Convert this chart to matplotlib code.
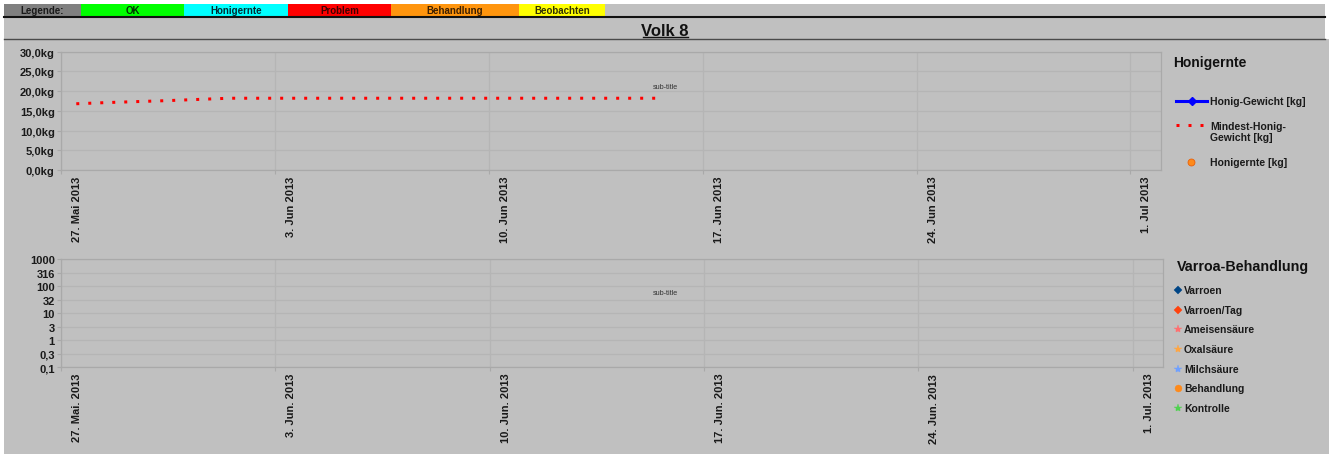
import matplotlib
matplotlib.use("Agg")
import matplotlib.pyplot as plt
import matplotlib.dates as mdates
import matplotlib.transforms as mtransforms
from matplotlib.lines import Line2D
from matplotlib.patches import Rectangle
import numpy as np
import pandas as pd

plt.rcParams['font.family'] = ['Liberation Sans', 'DejaVu Sans']

# ---------------- data ----------------
legend_bar_labels = ["Legende:", "OK", "Honigernte", "Problem", "Behandlung", "Beobachten"]
legend_bar_colors = ["#808080", "#00ff00", "#00ffff", "#ff0000", "#ff950e", "#ffff00"]
legend_bar_text_colors = ["#1a1a1a", "#003300", "#002b33", "#400000", "#3d1f00", "#333300"]

min_honey_dates = ["2013-05-27 12:00", "2013-05-28 12:00", "2013-05-29 12:00", "2013-05-30 12:00",
                   "2013-05-31 12:00", "2013-06-01 12:00", "2013-06-02 12:00", "2013-06-03 12:00",
                   "2013-06-04 12:00", "2013-06-05 12:00", "2013-06-06 12:00", "2013-06-07 12:00",
                   "2013-06-08 12:00", "2013-06-09 12:00", "2013-06-10 12:00", "2013-06-11 12:00",
                   "2013-06-12 12:00", "2013-06-13 12:00", "2013-06-14 12:00", "2013-06-15 12:00"]
min_honey_kg = [16.8, 17.1, 17.35, 17.6, 17.9, 18.2, 18.2, 18.2, 18.2, 18.2,
                18.2, 18.2, 18.2, 18.2, 18.2, 18.2, 18.2, 18.2, 18.2, 18.2]

week_ticks = ["2013-05-27", "2013-06-03", "2013-06-10", "2013-06-17", "2013-06-24", "2013-07-01"]
top_xlabels = ["27. Mai 2013", "3. Jun 2013", "10. Jun 2013", "17. Jun 2013", "24. Jun 2013", "1. Jul 2013"]
bottom_xlabels = ["27. Mai. 2013", "3. Jun. 2013", "10. Jun. 2013", "17. Jun. 2013", "24. Jun. 2013", "1. Jul. 2013"]
x_range = ["2013-05-27", "2013-07-02"]

top_yticks = [0, 5, 10, 15, 20, 25, 30]
top_ylabels = ["0,0kg", "5,0kg", "10,0kg", "15,0kg", "20,0kg", "25,0kg", "30,0kg"]

log_yticks = [0.1, 0.316, 1, 3.16, 10, 31.6, 100, 316, 1000]
log_ylabels = ["0,1", "0,3", "1", "3", "10", "32", "100", "316", "1000"]

honey_legend = ["Honig-Gewicht [kg]", "Mindest-Honig-\nGewicht [kg]", "Honigernte [kg]"]
varroa_legend = ["Varroen", "Varroen/Tag", "Ameisensäure", "Oxalsäure", "Milchsäure", "Behandlung", "Kontrolle"]
varroa_markers = ["D", "D", "*", "*", "*", "o", "*"]
varroa_colors = ["#004586", "#ff420e", "#ff6f6f", "#ffa542", "#6fa0ff", "#ff8a1a", "#4fd24f"]

# ---------------- figure ----------------
W, H = 1329, 456
fig = plt.figure(figsize=(W / 100, H / 100), dpi=100)
fig.patch.set_facecolor("white")
BG = "#c0c0c0"


def fx(px):
    return px / W


def fy(py):
    return 1 - py / H


def rect(x0, y0, x1, y1, color, z=0):
    fig.add_artist(Rectangle((fx(x0), fy(y1)), fx(x1) - fx(x0), fy(y0) - fy(y1),
                             transform=fig.transFigure, facecolor=color, edgecolor="none", zorder=z))


def hline(x0, x1, y, color, lw):
    fig.add_artist(Line2D([fx(x0), fx(x1)], [fy(y), fy(y)], transform=fig.transFigure,
                          color=color, lw=lw, zorder=3))


# backgrounds
rect(4, 5, 1325, 40, BG)
rect(4, 40, 1329, 455, BG)

# top legend bar
cell_edges = [4, 81, 184, 288, 391, 519, 605]
for i, lab in enumerate(legend_bar_labels):
    rect(cell_edges[i], 5, cell_edges[i + 1], 17.5, legend_bar_colors[i], z=1)
    fig.text(fx((cell_edges[i] + cell_edges[i + 1]) / 2), fy(11.3), lab, ha="center", va="center",
             fontsize=7, fontweight="bold", color=legend_bar_text_colors[i], zorder=4)

hline(4, 1325, 18.3, "#111111", 1.5)
hline(4, 1325, 40, "#4a4a4a", 1.0)

# title
fig.text(fx(665), fy(36.5), "Volk 8", ha="center", va="baseline", fontsize=12, fontweight="bold", color="#111111")
hline(642.5, 688, 38.3, "#111111", 1.0)

GRID = "#b5b5b5"
SPINE = "#a9a9a9"
dates_tick = mdates.date2num(pd.to_datetime(week_ticks))
xr = mdates.date2num(pd.to_datetime(x_range))


def style_axis(ax, xlabels):
    ax.set_facecolor(BG)
    ax.set_xlim(xr[0], xr[1])
    ax.set_xticks(dates_tick)
    ax.set_xticklabels(xlabels, rotation=90, fontsize=8, fontweight="bold", color="#1a1a1a")
    ax.grid(True, color=GRID, lw=0.9)
    ax.set_axisbelow(True)
    for s in ax.spines.values():
        s.set_color(SPINE)
        s.set_linewidth(0.9)
    ax.tick_params(axis="both", direction="out", length=3, width=0.8, color=SPINE, pad=1.5)
    ax.tick_params(axis="x", pad=1)
    offset = mtransforms.ScaledTranslation(16 / 100, 0, fig.dpi_scale_trans)
    for lab in ax.get_xticklabels():
        lab.set_transform(lab.get_transform() + offset)


# ---------------- top chart ----------------
ax1 = fig.add_axes([fx(61), fy(171), fx(1161) - fx(61), fy(52.7) - fy(171)])
style_axis(ax1, top_xlabels)
ax1.set_ylim(0, 30)
ax1.set_yticks(top_yticks)
ax1.set_yticklabels(top_ylabels, fontsize=8, fontweight="bold", color="#1a1a1a")
ax1.plot(mdates.date2num(pd.to_datetime(min_honey_dates)), min_honey_kg, color="#ff0000",
         lw=2.16, linestyle=(0, (1, 3)), dash_capstyle="butt", solid_capstyle="butt")

fig.text(fx(665), fy(87.5), "sub-title", ha="center", va="center", fontsize=5.2, color="#333333")

# ---------------- bottom chart ----------------
ax2 = fig.add_axes([fx(61), fy(368.3), fx(1163.3) - fx(61), fy(260.3) - fy(368.3)])
style_axis(ax2, bottom_xlabels)
ax2.set_yscale("log")
ax2.set_ylim(0.1, 1000)
ax2.set_yticks(log_yticks)
ax2.set_yticklabels(log_ylabels, fontsize=8, fontweight="bold", color="#1a1a1a")
ax2.yaxis.set_minor_locator(matplotlib.ticker.NullLocator())

fig.text(fx(665), fy(293.5), "sub-title", ha="center", va="center", fontsize=5.2, color="#333333")

# ---------------- legends ----------------
fig.text(fx(1173), fy(62.5), "Honigernte", ha="left", va="center", fontsize=10, fontweight="bold", color="#111111")
fig.add_artist(Line2D([fx(1176), fx(1207)], [fy(102), fy(102)], transform=fig.transFigure,
                      color="#0000ff", lw=2.2))
fig.add_artist(Line2D([fx(1191.5)], [fy(102)], transform=fig.transFigure, color="#0000ff",
                      marker="D", markersize=4, lw=0))
fig.text(fx(1210), fy(102.5), honey_legend[0], ha="left", va="center", fontsize=7.5, fontweight="bold", color="#1a1a1a")
fig.add_artist(Line2D([fx(1175.8), fx(1207)], [fy(126.3), fy(126.3)], transform=fig.transFigure,
                      color="#ff0000", lw=2.16, linestyle=(0, (1, 3)), dash_capstyle="butt"))
fig.text(fx(1210), fy(132.7), honey_legend[1], ha="left", va="center", fontsize=7.5, fontweight="bold",
         color="#1a1a1a", linespacing=1.15)
fig.add_artist(Line2D([fx(1191.3)], [fy(162.7)], transform=fig.transFigure, color="#ff8a1a",
                      marker="o", markersize=5, markeredgecolor="#e8600a", markeredgewidth=0.6, lw=0))
fig.text(fx(1210), fy(162.7), honey_legend[2], ha="left", va="center", fontsize=7.5, fontweight="bold", color="#1a1a1a")

fig.text(fx(1177), fy(267.5), "Varroa-Behandlung", ha="left", va="center", fontsize=10.3, fontweight="bold", color="#111111")
ys = [290.7, 310.5, 330.3, 350.0, 369.7, 389.0, 408.7]
for lab, m, c, y in zip(varroa_legend, varroa_markers, varroa_colors, ys):
    ms = 4 if m == "D" else (5 if m == "o" else 6)
    fig.add_artist(Line2D([fx(1178.3)], [fy(y)], transform=fig.transFigure, color=c, marker=m,
                          markersize=ms, markeredgewidth=0.3, markeredgecolor=c, lw=0))
    fig.text(fx(1184), fy(y), lab, ha="left", va="center", fontsize=7.5, fontweight="bold", color="#1a1a1a")

fig.savefig("out.png", dpi=100, facecolor=fig.get_facecolor())
